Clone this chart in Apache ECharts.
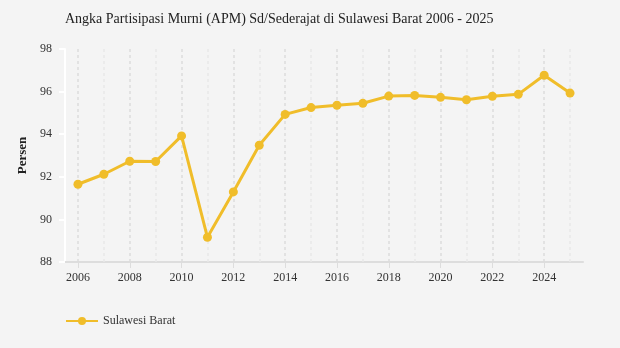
<!DOCTYPE html>
<html><head><meta charset="utf-8">
<script src="https://cdn.jsdelivr.net/npm/echarts@6/dist/echarts.min.js"></script>
<style>html,body{margin:0;padding:0;background:#f4f4f4}#c{width:620px;height:348px}</style>
</head><body><div id="c"></div>
<script>
const years = ['2006','2007','2008','2009','2010','2011','2012','2013','2014','2015','2016','2017','2018','2019','2020','2021','2022','2023','2024','2025'];
const values = [91.65,92.12,92.73,92.72,93.92,89.16,91.29,93.48,94.93,95.25,95.36,95.45,95.79,95.82,95.73,95.62,95.78,95.87,96.77,95.93];
const seriesName = 'Sulawesi Barat';
const titleText = 'Angka Partisipasi Murni (APM) Sd/Sederajat di Sulawesi Barat 2006 - 2025';
const font = '"Liberation Serif", "Times New Roman", serif';

const markLines = years.map((y, i) => ({
  xAxis: y,
  lineStyle: { color: i % 2 === 0 ? '#dcdcdc' : '#e8e8e8', type: [3, 3], width: 1.5 }
}));

const chart = echarts.init(document.getElementById('c'), null, { renderer: 'canvas' });
chart.setOption({
  backgroundColor: '#f4f4f4',
  animation: false,
  textStyle: { fontFamily: font },
  title: {
    text: titleText, left: 60, top: 7,
    textStyle: { fontFamily: font, fontSize: 14, fontWeight: 'normal', color: '#222' }
  },
  legend: {
    left: 60, top: 310, itemWidth: 32, itemHeight: 10, itemGap: 6,
    textStyle: { fontFamily: font, fontSize: 12, color: '#333' },
    data: [seriesName]
  },
  grid: { left: 65, right: 37, top: 49, bottom: 86 },
  xAxis: {
    type: 'category', data: years, boundaryGap: true,
    axisLine: { lineStyle: { color: '#dddddd', width: 2 } },
    axisTick: { show: true, alignWithLabel: true, interval: 1, length: 6, lineStyle: { color: '#dddddd' } },
    axisLabel: { interval: 1, color: '#333', fontFamily: font, fontSize: 12, margin: 10 },
    splitLine: { show: false }
  },
  yAxis: {
    type: 'value', min: 88, max: 98, interval: 2,
    name: 'Persen', nameLocation: 'middle', nameGap: 33,
    nameTextStyle: { fontFamily: font, fontSize: 13, fontWeight: 'bold', color: '#222' },
    axisLine: { show: true, lineStyle: { color: '#ffffff', width: 2 } },
    axisTick: { show: true, length: 6, lineStyle: { color: '#ffffff', width: 2 } },
    axisLabel: { color: '#333', fontFamily: font, fontSize: 12, margin: 13 },
    splitLine: { show: false }
  },
  series: [{
    name: seriesName, type: 'line', data: values,
    symbol: 'circle', symbolSize: 9,
    itemStyle: { color: '#f0bd2a' },
    lineStyle: { color: '#f0bd2a', width: 3 },
    z: 3,
    markLine: { silent: true, symbol: 'none', label: { show: false }, data: markLines, z: 1 }
  }]
});
</script></body></html>
